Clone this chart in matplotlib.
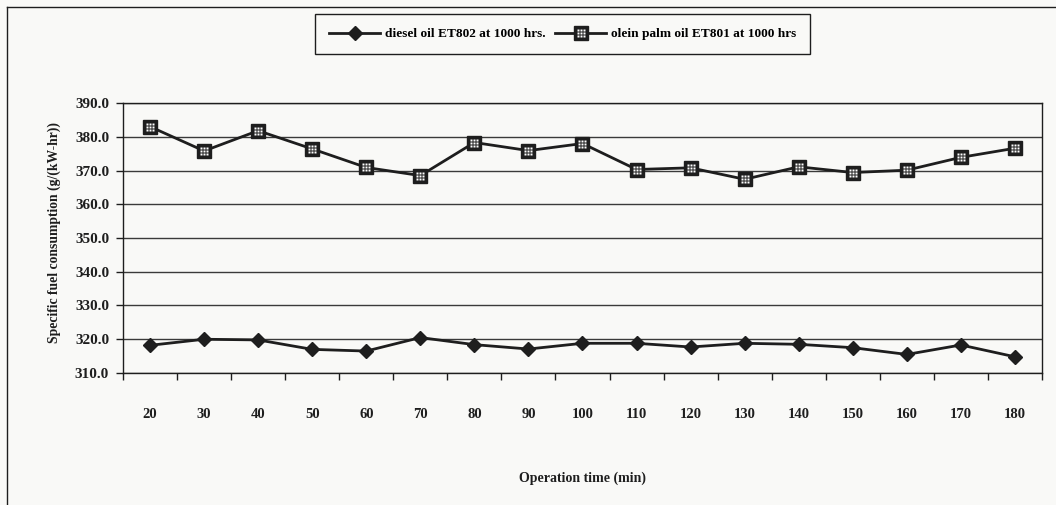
import matplotlib
matplotlib.use("Agg")
import matplotlib.pyplot as plt
from matplotlib.lines import Line2D
from matplotlib.path import Path
import numpy as np

# Operation time categories (min)
times = [20, 30, 40, 50, 60, 70, 80, 90, 100, 110, 120, 130, 140, 150, 160, 170, 180]

# Specific fuel consumption, g/(kW-hr)
diesel_sfc = [318.2, 320.0, 319.8, 317.0, 316.5, 320.5, 318.4, 317.1, 318.8, 318.8,
              317.7, 318.8, 318.5, 317.5, 315.5, 318.3, 314.8]
olein_sfc = [383.0, 375.8, 381.8, 376.4, 370.9, 368.5, 378.3, 375.9, 378.0, 370.3,
             370.8, 367.4, 371.1, 369.4, 370.1, 373.9, 376.6]

y_ticks = [310.0, 320.0, 330.0, 340.0, 350.0, 360.0, 370.0, 380.0, 390.0]

label_diesel = "diesel oil ET802 at 1000 hrs."
label_olein = "olein palm oil ET801 at 1000 hrs"
x_title = "Operation time (min)"
y_title = "Specific fuel consumption (g/(kW-hr))"

ink = "#1e1e1e"
paper = "#f9f9f7"

plt.rcParams["font.family"] = ["Liberation Serif", "DejaVu Serif"]
plt.rcParams["font.weight"] = "bold"

fig = plt.figure(figsize=(10.56, 5.05), dpi=100, facecolor=paper)
ax = fig.add_axes([0.1165, 0.2614, 0.8702, 0.5346])
ax.set_facecolor(paper)

x = np.arange(len(times))

# sparse white dot pattern drawn inside the square markers
dots = []
codes = []
r = 0.075
for cx, cy in [(-0.28, -0.28), (0.28, -0.28), (0.0, 0.0),
               (-0.28, 0.28), (0.28, 0.28), (0.0, -0.3), (0.0, 0.3),
               (-0.3, 0.0), (0.3, 0.0)]:
    dots += [(cx - r, cy - r), (cx + r, cy - r), (cx + r, cy + r), (cx - r, cy + r), (cx - r, cy - r)]
    codes += [Path.MOVETO, Path.LINETO, Path.LINETO, Path.LINETO, Path.CLOSEPOLY]
dot_marker = Path(dots, codes)

l_diesel, = ax.plot(x, diesel_sfc, color=ink, lw=2.0, marker="D", ms=7.5,
                    mfc=ink, mec=ink, zorder=3)
l_olein, = ax.plot(x, olein_sfc, color=ink, lw=2.0, marker="s", ms=9.5,
                   mfc=ink, mec=ink, zorder=3)
l_dots, = ax.plot(x, olein_sfc, ls="none", marker=dot_marker, ms=5.5,
                  mfc="white", mec="none", zorder=4)

ax.set_xlim(-0.5, len(times) - 0.5)
ax.set_ylim(310, 390)
ax.set_yticks(y_ticks)
ax.set_yticklabels([f"{v:.1f}" for v in y_ticks])
ax.set_xticks(x)
ax.set_xticklabels([str(t) for t in times])
ax.set_xticks(np.arange(-0.5, len(times), 1.0), minor=True)

ax.yaxis.grid(True, color="#3a3a3a", lw=1.0)
ax.set_axisbelow(True)

ax.tick_params(axis="x", which="major", length=0, pad=25.5, labelsize=10.5, colors=ink)
ax.tick_params(axis="x", which="minor", length=5, width=1, direction="out", color=ink)
ax.tick_params(axis="y", length=5, width=1, direction="out", pad=5, labelsize=11, colors=ink)
for lab in ax.get_xticklabels() + ax.get_yticklabels():
    lab.set_fontweight("bold")

for s in ax.spines.values():
    s.set_color(ink)
    s.set_linewidth(1.0)

ax.set_xlabel(x_title, fontsize=10, fontweight="bold", color=ink, labelpad=36)
ax.set_ylabel(y_title, fontsize=9.8, fontweight="bold", color=ink, labelpad=9)
ax.yaxis.set_label_coords(-0.068, 0.52)

leg = fig.legend([l_diesel, (l_olein, l_dots)], [label_diesel, label_olein],
                 loc="upper center", bbox_to_anchor=(0.533, 0.972), ncol=2,
                 frameon=True, fancybox=False, framealpha=1, facecolor=paper,
                 edgecolor=ink, handlelength=3.8, columnspacing=0.7,
                 handletextpad=0.4, borderpad=1.05, borderaxespad=0.0,
                 prop={"family": "Liberation Serif", "weight": "bold", "size": 9.6})
leg.get_frame().set_linewidth(1.0)

# outer chart border (top and left edges)
fig.add_artist(Line2D([7 / 1056, 1.0], [1 - 7 / 505, 1 - 7 / 505],
                      transform=fig.transFigure, color=ink, lw=1.0))
fig.add_artist(Line2D([7 / 1056, 7 / 1056], [0.0, 1 - 7 / 505],
                      transform=fig.transFigure, color=ink, lw=1.0))

fig.savefig("out.png", dpi=100, facecolor=paper)
